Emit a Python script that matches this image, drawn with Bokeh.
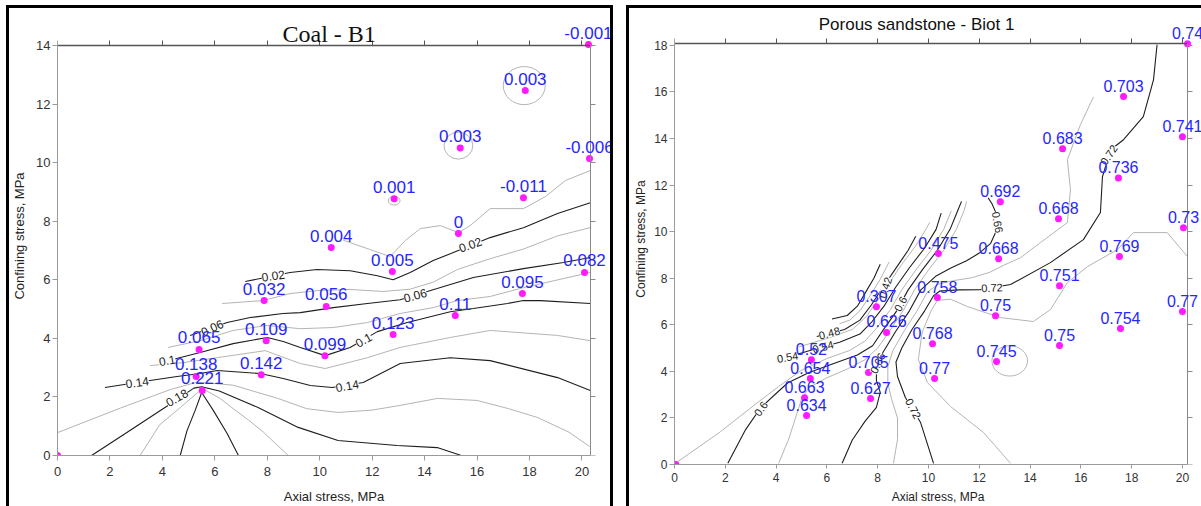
from bokeh.plotting import figure
from bokeh.models import Range1d, LinearAxis, ColumnDataSource, LabelSet, Label, FixedTicker, Spacer
from bokeh.layouts import row, column
from bokeh.core.properties import value
from bokeh.embed import file_html
from bokeh.resources import INLINE
import math

FONT = "Liberation Sans"
BLUE = "#2626ff"
MAGENTA = "#ff1aff"
BLACK_LINE = "#1e1e1e"
GRAY_LINE = "#b4b4b4"

# ---------------- Coal - B1 : measured points ----------------
coal_x = [0, 5.52, 5.29, 5.40, 7.77, 7.96, 7.88, 10.20, 10.25, 12.80, 12.77, 15.17, 17.73, 20.10,
          10.44, 15.29, 12.84, 17.77, 15.36, 17.84, 20.29, 20.25]
coal_y = [0, 2.22, 2.70, 3.62, 2.76, 3.92, 5.29, 3.41, 5.09, 4.13, 6.28, 4.78, 5.53, 6.25,
          7.10, 7.58, 8.77, 8.80, 10.50, 12.46, 10.14, 14.03]
coal_val = ["", "0.221", "0.138", "0.065", "0.142", "0.109", "0.032", "0.099", "0.056", "0.123",
            "0.005", "0.11", "0.095", "0.082", "0.004", "0", "0.001", "-0.011", "0.003", "0.003",
            "-0.006", "-0.001"]
coal_xticks = [0, 2, 4, 6, 8, 10, 12, 14, 16, 18, 20]
coal_yticks = [0, 2, 4, 6, 8, 10, 12, 14]
coal_xmax = 20.32   # position of the right axis
coal_ymax = 14.0    # position of the top axis

# Coal contour lines
coal_c000_x = [10.9, 11.93, 12.69, 13.26, 13.84, 14.6, 15.29, 15.74, 16.5, 17.77, 18.61, 19.37, 20.32]
coal_c000_y = [7.35, 7.03, 6.79, 7.34, 7.75, 7.85, 7.61, 7.85, 8.43, 8.43, 8.84, 9.39, 9.73]
coal_c002_x = [7.16, 8.87, 9.9, 11.16, 12.2, 12.8, 13.45, 14.33, 14.98, 16.5, 17.77, 19.07, 20.32]
coal_c002_y = [5.94, 6.25, 6.35, 6.31, 6.14, 6.0, 6.25, 6.66, 6.89, 7.44, 7.78, 8.26, 8.63]
coal_c004_x = [6.28, 7.84, 8.87, 9.9, 11.16, 12.42, 13.45, 14.33, 15.25, 16.5, 17.77, 19.07, 20.32]
coal_c004_y = [5.19, 5.29, 5.53, 5.63, 5.67, 5.6, 5.68, 5.92, 6.35, 6.72, 7.05, 7.5, 7.78]
coal_c006_x = [5.06, 6.47, 7.35, 8.6, 9.26, 10.52, 11.82, 13.07, 14.48, 15.86, 17.77, 19.3, 20.32]
coal_c006_y = [4.1, 4.54, 4.71, 4.85, 4.88, 5.05, 5.19, 5.32, 5.7, 6.08, 6.38, 6.59, 6.76]
coal_c008_x = [4.22, 5.44, 6.7, 8.0, 9.26, 10.52, 11.82, 13.07, 14.33, 15.25, 16.5, 17.77, 20.32]
coal_c008_y = [3.69, 3.92, 4.27, 4.44, 4.33, 4.37, 4.54, 4.85, 5.05, 5.29, 5.43, 5.73, 6.25]
coal_c010_x = [3.91, 5.44, 6.7, 8.0, 8.61, 9.26, 10.21, 11.16, 12.2, 13.34, 14.22, 14.98, 15.86,
               17.16, 17.77, 18.42, 20.32]
coal_c010_y = [3.17, 3.52, 3.82, 4.03, 3.89, 3.69, 3.41, 3.69, 4.23, 4.54, 4.74, 4.91, 5.02,
               5.19, 5.29, 5.29, 5.19]
coal_c012_x = [3.53, 4.79, 6.09, 7.92, 9.26, 10.21, 11.82, 13.07, 14.98, 16.5, 19.07, 20.32]
coal_c012_y = [3.07, 3.17, 3.34, 3.58, 3.14, 2.97, 3.34, 3.69, 4.03, 4.27, 4.1, 3.92]
coal_c014_x = [1.81, 3.53, 4.56, 5.44, 6.09, 7.73, 8.61, 9.64, 10.48, 11.66, 13.07, 14.98, 16.5,
               19.07, 20.32]
coal_c014_y = [2.32, 2.56, 2.7, 2.8, 2.9, 2.8, 2.63, 2.39, 2.32, 2.49, 3.14, 3.34, 3.24, 2.66, 2.22]
coal_c016_x = [0, 2.4, 4.3, 5.3, 5.7, 6.7, 8.4, 9.5, 10.7, 12.0, 13.0, 14.5, 16.0, 17.2, 18.3, 19.5, 20.3]
coal_c016_y = [0.78, 1.62, 2.25, 2.5, 2.48, 2.4, 1.95, 1.6, 1.47, 1.55, 1.7, 1.95, 1.88, 1.6, 1.3, 0.8, 0.3]
coal_c018_x = [1.3, 2.5, 4.2, 5.2, 5.5, 6.17, 7.65, 9.18, 10.7, 12.95, 14.48, 15.4]
coal_c018_y = [0.0, 0.7, 1.7, 2.3, 2.35, 2.2, 1.64, 0.96, 0.51, 0.34, 0.27, 0.0]
coal_c020_x = [3.15, 3.9, 4.7, 5.35, 5.5, 5.6, 6.2, 6.7, 7.3, 7.85, 8.8]
coal_c020_y = [0.0, 1.05, 1.65, 2.15, 2.25, 2.25, 1.95, 1.6, 1.2, 0.8, 0.0]
coal_c022_x = [4.68, 4.94, 5.25, 5.5, 5.94, 6.47, 6.9]
coal_c022_y = [0.0, 0.85, 1.54, 2.15, 1.54, 0.75, 0.0]
coal_loop_x = [17.8, 15.29, 12.84]
coal_loop_y = [12.63, 10.58, 8.7]
coal_loop_w = [1.6, 1.1, 0.45]
coal_loop_h = [1.3, 0.92, 0.3]
coal_lab_text = ["0.02", "0.02", "0.06", "0.06", "0.1", "0.1", "0.14", "0.14", "0.18"]
coal_lab_x = [8.23, 15.74, 13.64, 5.9, 11.67, 4.18, 3.04, 11.05, 4.55]
coal_lab_y = [6.14, 7.2, 5.47, 4.36, 3.95, 3.25, 2.5, 2.38, 1.98]
coal_lab_ang = [8, 20, 15, 25, 30, 10, 8, 10, 30]

# ---------------- Porous sandstone - Biot 1 ----------------
sand_x = [0.05, 5.2, 5.12, 5.35, 5.39, 7.72, 7.64, 8.35, 7.95, 10.39, 10.35, 10.16, 10.24, 12.64,
          12.68, 12.76, 12.83, 15.28, 15.12, 15.16, 15.16, 17.68, 17.48, 17.52, 17.56, 20.0, 20.04,
          20.0, 20.2]
sand_y = [0.0, 2.1, 2.87, 3.69, 4.5, 2.83, 3.95, 5.67, 6.78, 9.06, 7.17, 5.19, 3.69, 6.39,
          4.42, 8.84, 11.29, 13.56, 10.56, 7.68, 5.11, 15.8, 12.3, 8.93, 5.84, 14.08, 10.17,
          6.57, 18.07]
sand_val = ["", "0.634", "0.663", "0.654", "0.52", "0.627", "0.705", "0.626", "0.307", "0.475",
            "0.758", "0.768", "0.77", "0.75", "0.745", "0.668", "0.692", "0.683", "0.668", "0.751",
            "0.75", "0.703", "0.736", "0.769", "0.754", "0.741", "0.73", "0.77", "0.74"]
sand_xticks = [0, 2, 4, 6, 8, 10, 12, 14, 16, 18, 20]
sand_yticks = [0, 2, 4, 6, 8, 10, 12, 14, 16, 18]
sand_xmax = 20.2
sand_ymax = 18.1

sand_b0_x = [6.2, 6.8, 7.2, 7.5, 7.85, 8.1]
sand_b0_y = [6.25, 6.4, 6.8, 7.35, 8.0, 8.6]
sand_b2_x = [6.5, 6.9, 7.3, 7.7, 8.1, 8.45]
sand_b2_y = [6.05, 6.2, 6.6, 7.25, 7.95, 8.7]
sand_b3_x = [5.6, 6.7, 7.3, 7.75, 8.2, 8.7, 9.2, 9.5]
sand_b3_y = [5.5, 5.8, 6.2, 6.85, 7.6, 8.4, 9.2, 9.8]
sand_b4_x = [4.9, 6.1, 7.0, 7.55, 8.0, 8.45, 8.95, 9.5, 9.9, 10.05]
sand_b4_y = [5.05, 5.45, 5.8, 6.35, 7.05, 7.8, 8.6, 9.4, 10.1, 10.4]
sand_b5_x = [4.1, 5.5, 6.5, 7.3, 7.75, 8.25, 8.7, 9.25, 9.85, 10.3, 10.5]
sand_b5_y = [4.5, 4.95, 5.25, 5.6, 6.1, 6.8, 7.6, 8.45, 9.3, 10.1, 10.8]
sand_b6_x = [0.1, 1.8, 3.2, 4.1, 5.0, 6.0, 6.9, 7.5, 7.95, 8.5, 8.95, 9.5, 10.1, 10.6, 10.9]
sand_b6_y = [0.1, 1.4, 2.6, 3.35, 4.05, 4.55, 4.9, 5.3, 5.85, 6.65, 7.5, 8.35, 9.2, 10.1, 10.9]
sand_b7_x = [2.1, 2.8, 3.4, 4.45, 5.3, 6.3, 7.2, 7.8, 8.2, 8.75, 9.2, 9.75, 10.35, 10.85, 11.15, 11.3]
sand_b7_y = [0.05, 1.5, 2.45, 3.5, 3.95, 4.35, 4.7, 5.1, 5.75, 6.6, 7.5, 8.35, 9.2, 10.1, 10.9, 11.3]
sand_b8_x = [4.1, 4.5, 4.75, 5.0, 5.3, 5.95, 6.8, 7.5, 8.0, 8.45, 9.0, 9.45, 10.0, 10.6, 11.1, 11.4, 11.5]
sand_b8_y = [0.05, 1.1, 1.95, 2.8, 3.3, 3.7, 4.1, 4.5, 5.0, 5.7, 6.6, 7.5, 8.35, 9.2, 10.1, 10.9, 11.3]
sand_k66_x = [6.6, 7.0, 7.5, 7.95, 8.1, 7.95, 7.95, 8.2, 8.7, 9.25, 9.7, 10.3, 10.9, 11.5, 12.0,
              12.45, 12.7, 12.7, 12.5, 12.35]
sand_k66_y = [0.05, 1.05, 1.85, 2.45, 3.1, 3.6, 4.1, 4.8, 5.7, 6.6, 7.5, 8.1, 8.45, 8.75, 9.08,
              9.5, 10.1, 10.7, 11.2, 11.45]
sand_g70_x = [8.62, 8.78, 8.78, 8.55, 8.4, 8.4, 8.6, 9.05, 9.55, 9.95, 10.4, 11.0, 11.7, 12.4,
              12.95, 13.62, 14.41, 15.47, 15.59, 15.47, 15.98, 16.5]
sand_g70_y = [0.05, 1.07, 2.0, 2.8, 3.5, 4.2, 4.9, 5.75, 6.6, 7.4, 7.75, 7.9, 8.02, 8.25,
              8.55, 8.88, 9.53, 10.39, 11.8, 13.09, 14.59, 15.79]
sand_k72_x = [10.2, 9.69, 9.09, 8.78, 8.72, 8.95, 9.35, 9.85, 10.2, 10.45, 11.2, 12.05, 13.23,
              14.8, 16.1, 16.77, 16.85, 17.17, 17.68, 18.46, 18.86, 19.0]
sand_k72_y = [0.05, 1.8, 2.88, 3.78, 4.4, 5.0, 5.8, 6.6, 7.25, 7.45, 7.5, 7.51, 7.73,
              8.67, 9.66, 10.82, 12.36, 13.52, 13.95, 14.94, 16.52, 18.03]
sand_g76_x = [13.23, 12.17, 10.87, 9.96, 9.6, 9.75, 10.1, 10.35, 10.87, 11.54, 12.83, 14.13,
              14.8, 15.47, 16.26, 17.44, 18.07, 19.4, 20.2]
sand_g76_y = [0.05, 1.37, 2.49, 3.52, 4.51, 5.67, 6.6, 7.05, 7.1, 6.78, 6.31, 6.14,
              6.65, 7.81, 8.5, 9.23, 9.96, 9.96, 8.93]
sand_loop_x = [13.2]
sand_loop_y = [4.45]
sand_loop_w = [1.4]
sand_loop_h = [1.3]
sand_lab_text = ["0.48", "0.54", "0.54", "0.6", "0.6", "0.42", "0.66", "0.66", "0.72", "0.72", "0.72"]
sand_lab_x = [6.1, 5.85, 4.45, 3.4, 8.9, 8.3, 12.72, 8.0, 12.5, 9.4, 17.1]
sand_lab_y = [5.64, 5.05, 4.61, 2.4, 6.9, 7.6, 10.4, 4.35, 7.59, 2.4, 13.3]
sand_lab_ang = [15, 15, 10, 55, 62, 72, -80, 65, 3, -62, 55]


def style_axis(ax, color, label_size, show_labels=True):
    ax.axis_line_color = color
    ax.major_tick_line_color = color
    ax.minor_tick_line_color = None
    ax.major_tick_in = 0
    ax.major_tick_out = 5
    ax.major_label_text_font = FONT
    ax.major_label_text_color = "#333333" if show_labels else None
    ax.major_label_text_font_size = label_size if show_labels else "0px"
    ax.axis_label_text_font = FONT
    ax.axis_label_text_font_style = "normal"
    ax.axis_label_text_color = "#222222"


def make_panel(width, height, xr, yr, xmax, ymax, xticks, yticks, mins,
               tick_size, axlab_size, bottom_std, left_std):
    p = figure(width=width, height=height, x_range=Range1d(0, xr), y_range=Range1d(0, yr),
               output_backend="svg", toolbar_location=None,
               min_border_left=mins[0], min_border_right=mins[1], min_border_top=mins[2],
               min_border_bottom=mins[3], styles={"outline": "3px solid #000"})
    p.frame_align = False
    p.title_location = None
    p.grid.visible = False
    p.outline_line_color = None
    p.background_fill_color = "white"
    p.border_fill_color = "white"

    p.xaxis.ticker = FixedTicker(ticks=xticks)
    p.yaxis.ticker = FixedTicker(ticks=yticks)
    for ax in p.xaxis:
        style_axis(ax, "#9a9a9a", tick_size)
        ax.bounds = (0, xmax)
        ax.axis_label = "Axial stress, MPa"
        ax.axis_label_text_font_size = axlab_size
        ax.major_label_standoff = bottom_std[0]
        ax.axis_label_standoff = bottom_std[1]
        ax.major_tick_out = bottom_std[2]
    for ax in p.yaxis:
        style_axis(ax, "#9a9a9a", tick_size)
        ax.bounds = (0, ymax)
        ax.axis_label = "Confining stress, MPa"
        ax.axis_label_text_font_size = axlab_size
        ax.major_label_standoff = left_std[0]
        ax.axis_label_standoff = left_std[1]

    top = LinearAxis(ticker=FixedTicker(ticks=xticks), fixed_location=ymax, bounds=(0, xmax))
    style_axis(top, "#555555", tick_size, show_labels=False)
    top.axis_line_width = 1.5
    top.major_label_standoff = 0
    p.add_layout(top, "above")
    right = LinearAxis(ticker=FixedTicker(ticks=yticks), fixed_location=xmax, bounds=(0, ymax))
    style_axis(right, "#8a8a8a", tick_size, show_labels=False)
    right.major_label_standoff = 0
    p.add_layout(right, "right")
    return p


def add_title(p, text, x, y, font, size):
    p.add_layout(Label(x=x, y=y, text=text, text_align="center", text_baseline="alphabetic",
                       text_font=font, text_font_size=size, text_color="#111111"))


def add_lines(p, black, gray):
    p.multi_line(xs=[g[0] for g in gray], ys=[g[1] for g in gray], line_color=GRAY_LINE, line_width=1)
    p.multi_line(xs=[b[0] for b in black], ys=[b[1] for b in black], line_color=BLACK_LINE,
                 line_width=1.1)


def add_contour_labels(p, texts, xs, ys, angs, size):
    src = ColumnDataSource(dict(x=xs, y=ys, t=texts, a=[math.radians(a) for a in angs]))
    p.add_layout(LabelSet(x="x", y="y", text="t", angle="a", source=src, text_align="center",
                          text_baseline="middle", text_font=value(FONT), text_font_size=value(size),
                          text_color="#222222", background_fill_color="white"))


def add_points(p, xs, ys, vals, size, yoff):
    p.scatter(xs, ys, size=7, color=MAGENTA, line_color=None)
    for xv, yv, t in zip(xs, ys, vals):
        if not t:
            continue
        p.add_layout(Label(x=xv, y=yv, text=t, text_align="center", text_baseline="bottom",
                           y_offset=yoff, text_font=FONT, text_font_size=size, text_color=BLUE))


# ---------------- left panel ----------------
pL = make_panel(601, 498, 21.09, 14.99, coal_xmax, coal_ymax, coal_xticks, coal_yticks,
                (48, 0, 8, 51), "13px", "13px", (6, 10, 5), (2, 6))
add_title(pL, "Coal - B1", 10.36, 14.4, "Liberation Serif", "24px")
add_lines(pL,
          [(coal_c002_x, coal_c002_y), (coal_c006_x, coal_c006_y), (coal_c010_x, coal_c010_y),
           (coal_c014_x, coal_c014_y), (coal_c018_x, coal_c018_y), (coal_c022_x, coal_c022_y)],
          [(coal_c000_x, coal_c000_y), (coal_c004_x, coal_c004_y), (coal_c008_x, coal_c008_y),
           (coal_c012_x, coal_c012_y), (coal_c016_x, coal_c016_y), (coal_c020_x, coal_c020_y)])
pL.ellipse(x=coal_loop_x, y=coal_loop_y, width=coal_loop_w, height=coal_loop_h,
           fill_color=None, line_color=GRAY_LINE, line_width=1)
add_contour_labels(pL, coal_lab_text, coal_lab_x, coal_lab_y, coal_lab_ang, "12px")
add_points(pL, coal_x, coal_y, coal_val, "17px", 6)

# ---------------- right panel ----------------
pR = make_panel(572, 498, 20.75, 19.37, sand_xmax, sand_ymax, sand_xticks, sand_yticks,
                (45, 0, 5, 41), "12px", "12px", (4, 5, 4), (2, 3))
add_title(pR, "Porous sandstone - Biot 1", 9.53, 18.88, FONT, "17px")
add_lines(pR,
          [(sand_b0_x, sand_b0_y), (sand_b3_x, sand_b3_y), (sand_b5_x, sand_b5_y),
           (sand_b7_x, sand_b7_y), (sand_k66_x, sand_k66_y), (sand_k72_x, sand_k72_y)],
          [(sand_b2_x, sand_b2_y), (sand_b4_x, sand_b4_y), (sand_b6_x, sand_b6_y),
           (sand_b8_x, sand_b8_y), (sand_g70_x, sand_g70_y), (sand_g76_x, sand_g76_y)])
pR.ellipse(x=sand_loop_x, y=sand_loop_y, width=sand_loop_w, height=sand_loop_h,
           fill_color=None, line_color=GRAY_LINE, line_width=1)
add_contour_labels(pR, sand_lab_text, sand_lab_x, sand_lab_y, sand_lab_ang, "11px")
add_points(pR, sand_x, sand_y, sand_val, "16px", 5)

layout = column(Spacer(height=8),
                row(Spacer(width=9), pL, Spacer(width=19), pR))
open("out.html", "w").write(file_html(layout, INLINE))
